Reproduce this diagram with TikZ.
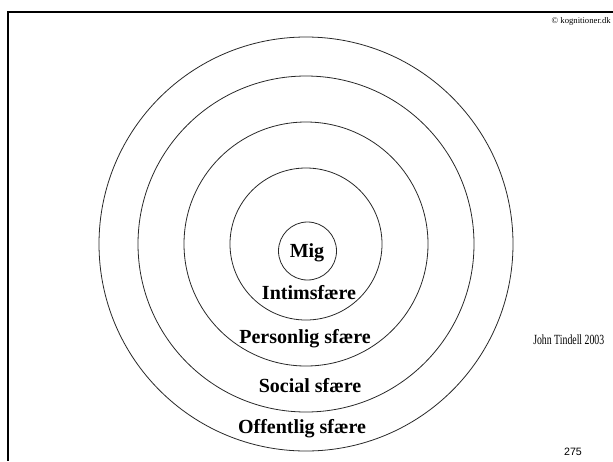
\documentclass[tikz,border=0pt]{standalone}
\usepackage{fontspec}
\setmainfont{Liberation Serif}
\newfontfamily\numfont{Liberation Sans}
\newfontfamily\narrowfont[FakeStretch=0.7]{Liberation Serif}
\usepackage{tikz}
\usetikzlibrary{positioning}
\definecolor{ringgray}{RGB}{40,40,40}
\tikzset{
  ring/.style={draw=ringgray,line width=0.6pt},
  zone/.style={font=\fontsize{15}{17}\selectfont\bfseries,anchor=base,inner sep=0pt},
  frame/.style={line width=1.6pt,draw=black},
  note/.style={font=\narrowfont\fontsize{10.5}{12}\selectfont,anchor=base west,inner sep=0pt},
}

\begin{document}
\begin{tikzpicture}[x=0.75pt,y=-0.75pt]
  \useasboundingbox (0,0) rectangle (613,461);
  % slide frame
  \coordinate (tl) at (8,12);
  \coordinate (tr) at (613,12);
  \coordinate (bl) at (8,461);
  \draw[frame] (tr) -- (tl) -- (bl);
  % spheres
  \coordinate (ctr) at (306,244);
  \foreach \r in {76,122,168,207}
    \draw[ring] (ctr) circle[radius=\r];
  \coordinate (migctr) at (307.5,251);
  \draw[ring] (migctr) circle[radius=29];
  % zone labels
  \node[zone] (mig) at (307,257) {Mig};
  \node[zone] (intim) at (309,299) {Intimsfære};
  \node[zone] (personlig) at (305,343) {Personlig sfære};
  \node[zone] (social) at (310,392) {Social sfære};
  \node[zone] (offentlig) at (302,433) {Offentlig sfære};
  % source and page
  \node[note] (kilde) at (533,344) {John Tindell 2003};
  \node[font=\fontsize{6.5}{7}\selectfont,anchor=base east,inner sep=0pt]
    (copy) at (611,23) {© kognitioner.dk};
  \node[font=\numfont\fontsize{8}{9}\selectfont,anchor=base,inner sep=0pt]
    (side) at (573,455) {275};
\end{tikzpicture}
\end{document}
